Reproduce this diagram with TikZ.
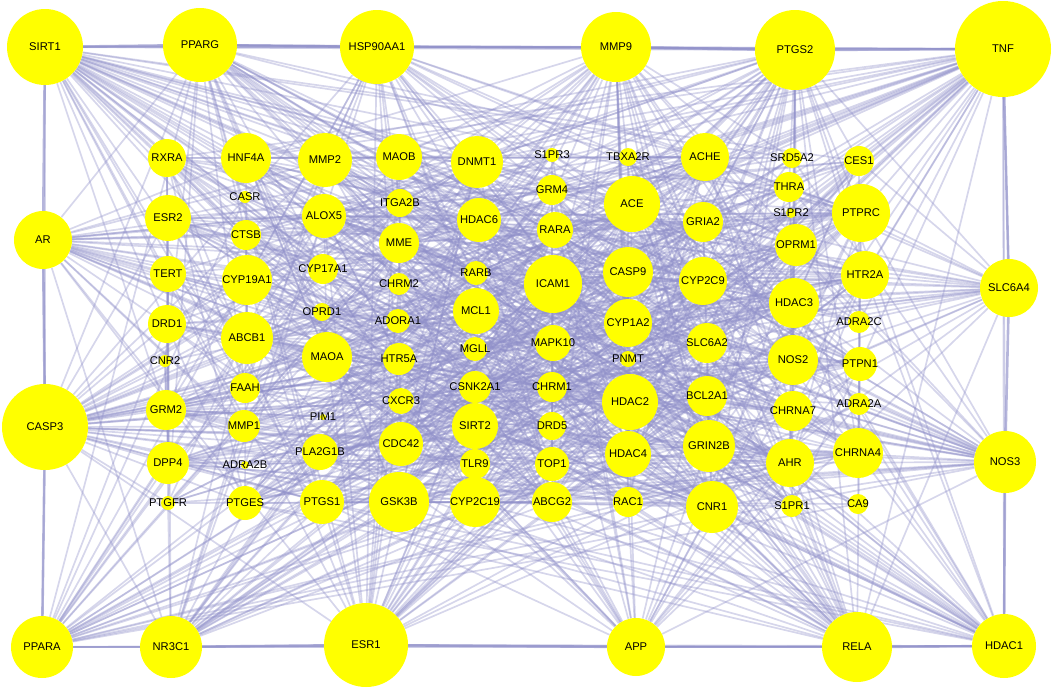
\documentclass[tikz,border=0pt]{standalone}
\usepackage{fontspec}
\setmainfont{Liberation Sans}
\usetikzlibrary{backgrounds}
\definecolor{GeneYellow}{HTML}{FFFF00}
\definecolor{LinkLilac}{HTML}{8E8EC8}

\begin{document}
\begin{tikzpicture}[x=1pt, y=-1pt,
    gene/.style={circle, fill=GeneYellow, inner sep=0pt},
    link/.style={LinkLilac, line width=1.7pt, opacity=0.36},
    ring/.style={LinkLilac, line width=2.6pt, opacity=0.65},
    font=\fontsize{11.2}{13}\selectfont]
    \useasboundingbox (0,0) rectangle (1059,688);

    % Genes: name/x/y/radius
    \def\genes{SIRT1/45/47/38, PPARG/200/45/37, HSP90AA1/377/47/37, MMP9/616/47/35,
      PTGS2/795/50/40, TNF/1003/49/48, AR/43/240/29, SLC6A4/1009/288/29,
      CASP3/45/427/43, NOS3/1005/462/31, PPARA/42/647/31, NR3C1/171/647/31,
      ESR1/366/645/42, APP/636/647/29, RELA/857/647/35, HDAC1/1004/646/32,
      RXRA/167/158/19, ESR2/168/218/23, TERT/168/274/18, DRD1/167/324/19,
      CNR2/165/361/6, GRM2/166/410/20, DPP4/168/463/21, PTGFR/168/503/7,
      HNF4A/246/158/25, CASR/245/197/6, CTSB/246/235/15, CYP19A1/247/280/25,
      ABCB1/247/338/26, FAAH/245/388/15, MMP1/244/426/16, ADRA2B/245/465/4,
      PTGES/245/503/17,
      MMP2/325/160/27, ALOX5/324/216/22, CYP17A1/323/269/15, OPRD1/322/312/9,
      MAOA/327/357/25, PIM1/323/417/3, PLA2G1B/320/452/18, PTGS1/322/502/22,
      MAOB/399/157/23, ITGA2B/400/203/14, MME/399/243/20, CHRM2/399/284/11,
      ADORA1/398/321/12, HTR5A/399/359/16, CXCR3/401/401/13, CDC42/401/444/22,
      GSK3B/399/502/30,
      DNMT1/477/162/26, HDAC6/479/220/22, RARB/476/273/12, MCL1/476/311/23,
      MGLL/475/349/12, CSNK2A1/475/387/16, SIRT2/475/426/23, TLR9/475/464/15,
      CYP2C19/475/502/25,
      S1PR3/552/155/7, GRM4/552/190/15, RARA/555/230/18, ICAM1/553/284/29,
      MAPK10/553/343/18, CHRM1/552/387/15, DRD5/552/426/14, TOP1/552/464/17,
      ABCG2/552/502/20,
      TBXA2R/628/157/9, ACE/632/204/28, CASP9/628/272/25, CYP1A2/628/323/24,
      PNMT/628/359/8, HDAC2/630/402/28, HDAC4/628/454/23, RAC1/628/502/15,
      ACHE/705/157/24, GRIA2/703/222/20, CYP2C9/703/281/24, SLC6A2/707/343/20,
      BCL2A1/707/396/20, GRIN2B/709/446/26, CNR1/712/507/26,
      SRD5A2/792/158/10, THRA/789/187/15, S1PR2/791/213/5, OPRM1/796/245/21,
      HDAC3/794/303/25, NOS2/793/360/25, CHRNA7/793/411/20, AHR/790/463/24,
      S1PR1/792/506/11,
      CES1/859/161/15, PTPRC/861/213/29, HTR2A/865/275/24, ADRA2C/859/322/11,
      PTPN1/860/364/17, ADRA2A/859/404/11, CHRNA4/858/453/25, CA9/858/504/10}

    % Nodes
    \foreach \g/\x/\y/\r in \genes
        \node[gene, minimum size=2*\r, label=center:\g] (\g) at (\x,\y) {};

    % Links behind the nodes
    \pgfmathsetseed{11}
    \begin{pgfonlayer}{background}
        % outer ring
        \foreach \a/\b in {SIRT1/PPARG, PPARG/HSP90AA1, HSP90AA1/MMP9, MMP9/PTGS2,
          PTGS2/TNF, TNF/SLC6A4, SLC6A4/NOS3, NOS3/HDAC1, HDAC1/RELA, RELA/APP,
          APP/ESR1, ESR1/NR3C1, NR3C1/PPARA, PPARA/CASP3, CASP3/AR, AR/SIRT1}
            \draw[ring] (\a) -- (\b);
        % interactions, more for the bigger genes
        \foreach \a/\xa/\ya/\ra [count=\i] in \genes {
            \foreach \b/\xb/\yb/\rb [count=\j] in \genes {
                \ifnum\j>\i
                    \pgfmathtruncatemacro\hit{rnd < \ra*\rb/2100}
                    \ifnum\hit=1 \draw[link] (\a) -- (\b); \fi
                \fi
            }
        }
    \end{pgfonlayer}
\end{tikzpicture}
\end{document}
